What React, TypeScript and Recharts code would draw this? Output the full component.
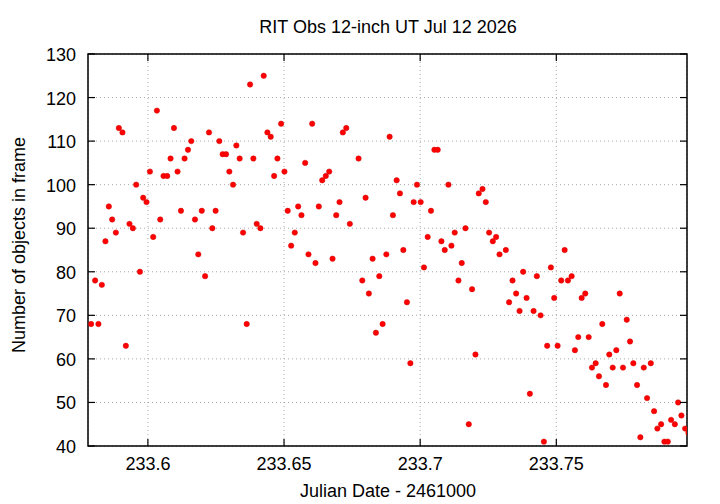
import React from 'react';
import { ScatterChart, Scatter, XAxis, YAxis, CartesianGrid, ReferenceArea } from 'recharts';

// Julian Date - 2461000, one entry per frame
const jd = [
  233.57914, 233.58061, 233.58183, 233.58308, 233.5844, 233.58565, 233.58687, 233.58823,
  233.58933, 233.59066, 233.59191, 233.59323, 233.59448, 233.5957, 233.59706, 233.59827,
  233.59949, 233.60074, 233.60195, 233.60331, 233.60453, 233.60574, 233.6071, 233.60832,
  233.60957, 233.61089, 233.61214, 233.61347, 233.61472, 233.61593, 233.61729, 233.61851,
  233.61979, 233.62101, 233.62244, 233.62366, 233.62487, 233.62623, 233.62745, 233.6287,
  233.62991, 233.63127, 233.63249, 233.6337, 233.63495, 233.63628, 233.63753, 233.63874,
  233.63996, 233.64132, 233.64253, 233.64389, 233.64511, 233.64636, 233.64757, 233.64893,
  233.65015, 233.65136, 233.65261, 233.65394, 233.65519, 233.6564, 233.65776, 233.65898,
  233.66034, 233.66155, 233.66277, 233.66402, 233.66534, 233.66659, 233.66781, 233.66917,
  233.67038, 233.6716, 233.67285, 233.67417, 233.67737, 233.67874, 233.67995, 233.68116,
  233.68253, 233.68374, 233.68499, 233.6862, 233.68757, 233.68878, 233.68999, 233.69136,
  233.69257, 233.69382, 233.69514, 233.6964, 233.69761, 233.69882, 233.70019, 233.7014,
  233.70276, 233.70397, 233.70523, 233.70644, 233.7078, 233.70902, 233.71038, 233.71148,
  233.71269, 233.71406, 233.71527, 233.71663, 233.71785, 233.71906, 233.72031, 233.72152,
  233.72289, 233.7241, 233.72531, 233.72668, 233.72789, 233.72914, 233.73146, 233.73267,
  233.73392, 233.73525, 233.7365, 233.73782, 233.73907, 233.74029, 233.74165, 233.74286,
  233.74423, 233.74544, 233.74665, 233.74801, 233.74923, 233.75048, 233.7518, 233.75306,
  233.75427, 233.75563, 233.75684, 233.75806, 233.75931, 233.76063, 233.76189, 233.7631,
  233.76446, 233.76567, 233.76689, 233.76825, 233.76946, 233.77072, 233.77204, 233.77329,
  233.7745, 233.77587, 233.77708, 233.77829, 233.77966, 233.78087, 233.78212, 233.78333,
  233.7847, 233.78591, 233.78712, 233.78849, 233.7897, 233.79095, 233.79216, 233.79353,
  233.79474, 233.79595, 233.79732, 233.79853,
];

const objects = [
  68, 78, 68, 77, 87, 95, 92, 89,
  113, 112, 63, 91, 90, 100, 80, 97,
  96, 103, 88, 117, 92, 102, 102, 106,
  113, 103, 94, 106, 108, 110, 92, 84,
  94, 79, 112, 90, 94, 110, 107, 107,
  103, 100, 109, 106, 89, 68, 123, 106,
  91, 90, 125, 112, 111, 102, 106, 114,
  103, 94, 86, 89, 95, 93, 105, 84,
  114, 82, 95, 101, 102, 103, 83, 93,
  96, 112, 113, 91, 106, 78, 97, 75,
  83, 66, 79, 68, 84, 111, 93, 101,
  98, 85, 73, 59, 96, 100, 96, 81,
  88, 94, 108, 108, 87, 85, 100, 86,
  89, 78, 82, 90, 45, 76, 61, 98,
  99, 96, 89, 87, 88, 84, 85, 73,
  78, 75, 71, 80, 74, 52, 71, 79,
  70, 41, 63, 81, 74, 63, 78, 85,
  78, 79, 62, 65, 74, 75, 65, 58,
  59, 56, 68, 54, 61, 58, 62, 75,
  58, 69, 64, 59, 54, 42, 58, 51,
  59, 48, 44, 45, 41, 41, 46, 45,
  50, 47, 44, 43,
];

const xTicks = [233.6, 233.65, 233.7, 233.75];
const yTicks = [40, 50, 60, 70, 80, 90, 100, 110, 120, 130];

const X_MIN = 233.578;
const X_MAX = 233.798;

const W = 720;
const H = 504;
const PLOT_LEFT = 88;
const PLOT_RIGHT = 687;
const PLOT_TOP = 54;
const PLOT_BOTTOM = 446;
const TICK_LEN = 7;
const FONT = '"Liberation Sans", Arial, Helvetica, sans-serif';
const FONT_SIZE = 18;

const data = jd.map((x, i) => ({ x, y: objects[i] }));

function XTick(props: any) {
  const { x, payload } = props;
  return (
    <g>
      <line x1={x} x2={x} y1={PLOT_BOTTOM} y2={PLOT_BOTTOM - TICK_LEN} stroke="#000" strokeWidth={1.2} />
      <line x1={x} x2={x} y1={PLOT_TOP} y2={PLOT_TOP + TICK_LEN} stroke="#000" strokeWidth={1.2} />
      <text x={x} y={PLOT_BOTTOM + 24} textAnchor="middle" fontFamily={FONT} fontSize={FONT_SIZE} fill="#000">
        {String(payload.value)}
      </text>
    </g>
  );
}

function YTick(props: any) {
  const { y, payload } = props;
  return (
    <g>
      <line x1={PLOT_LEFT} x2={PLOT_LEFT + TICK_LEN} y1={y} y2={y} stroke="#000" strokeWidth={1.2} />
      <line x1={PLOT_RIGHT - TICK_LEN} x2={PLOT_RIGHT} y1={y} y2={y} stroke="#000" strokeWidth={1.2} />
      <text x={PLOT_LEFT - 12} y={y + 7} textAnchor="end" fontFamily={FONT} fontSize={FONT_SIZE} fill="#000">
        {payload.value}
      </text>
    </g>
  );
}

function Dot(props: any) {
  const { cx, cy } = props;
  if (cx == null || cy == null) return null;
  return <circle cx={cx} cy={cy} r={2.7} fill="#ff0000" stroke="#d40000" strokeWidth={0.5} />;
}

export default function App() {
  return (
    <div style={{ position: 'absolute', left: 0, top: 0, width: W, height: H, background: '#fff' }}>
      <ScatterChart
        width={W}
        height={H}
        margin={{ top: PLOT_TOP, right: W - PLOT_RIGHT, bottom: H - PLOT_BOTTOM - 30, left: PLOT_LEFT - 60 }}
      >
        <CartesianGrid stroke="#a8a8a8" strokeDasharray="1 3" strokeWidth={1} />
        <XAxis
          type="number"
          dataKey="x"
          domain={[X_MIN, X_MAX]}
          ticks={xTicks}
          allowDataOverflow
          height={30}
          axisLine={false}
          tickLine={false}
          tick={<XTick />}
          interval={0}
        />
        <YAxis
          type="number"
          dataKey="y"
          domain={[40, 130]}
          ticks={yTicks}
          allowDataOverflow
          width={60}
          axisLine={false}
          tickLine={false}
          tick={<YTick />}
          interval={0}
        />
        <ReferenceArea
          x1={X_MIN}
          x2={X_MAX}
          y1={40}
          y2={130}
          fill="none"
          fillOpacity={0}
          stroke="#000"
          strokeWidth={1.5}
          ifOverflow="visible"
        />
        <Scatter data={data} shape={<Dot />} isAnimationActive={false} />
      </ScatterChart>
      <svg
        width={W}
        height={H}
        style={{ position: 'absolute', left: 0, top: 0, pointerEvents: 'none' }}
      >
        <text x={388} y={33} textAnchor="middle" fontFamily={FONT} fontSize={FONT_SIZE} fill="#000">
          RIT Obs 12-inch UT Jul 12 2026
        </text>
        <text x={388} y={497} textAnchor="middle" fontFamily={FONT} fontSize={FONT_SIZE} fill="#000">
          Julian Date - 2461000
        </text>
        <text
          x={25}
          y={245}
          textAnchor="middle"
          fontFamily={FONT}
          fontSize={FONT_SIZE}
          fill="#000"
          transform="rotate(-90 25 245)"
        >
          Number of objects in frame
        </text>
      </svg>
    </div>
  );
}
